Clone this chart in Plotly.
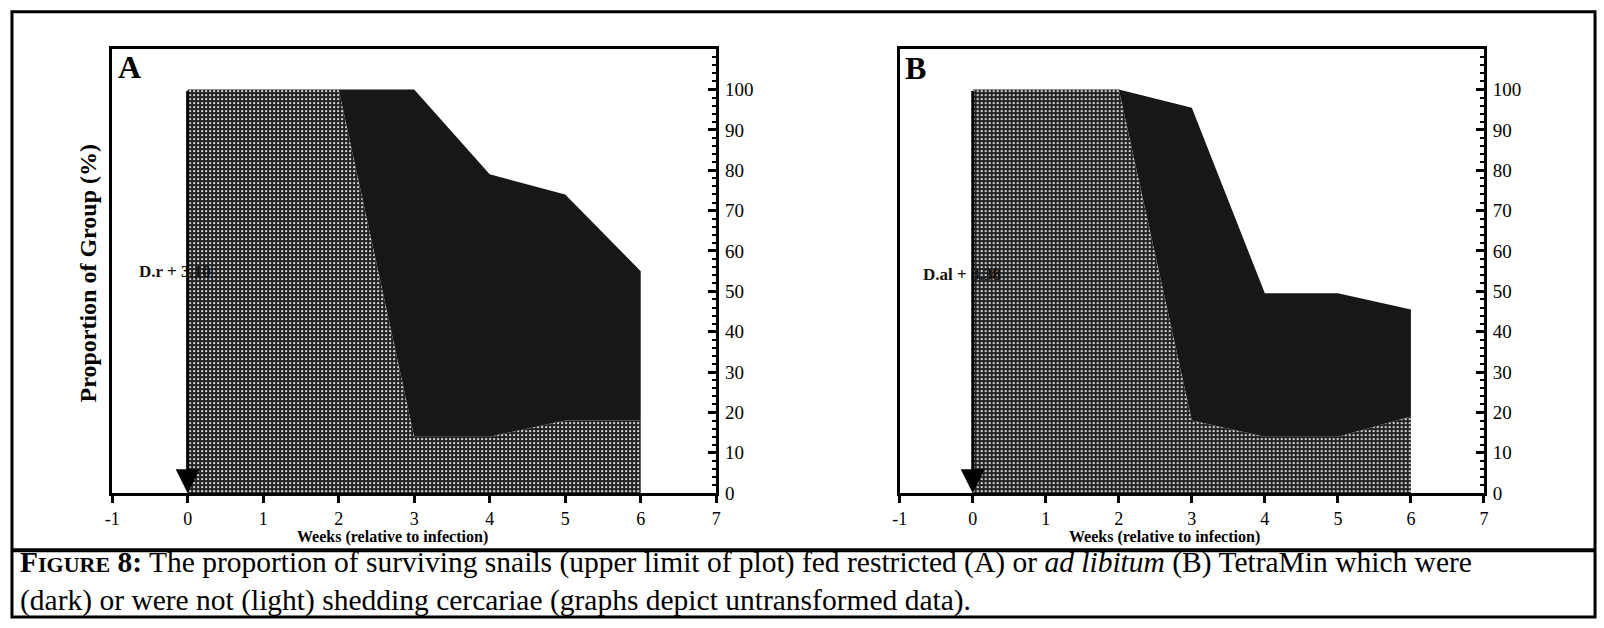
import plotly.graph_objects as go

# ---- data ----
weeks = [0, 1, 2, 3, 4, 5, 6]
a_total = [100, 100, 100, 100, 79, 74, 55]      # surviving snails, restricted (A)
a_light = [100, 100, 100, 14, 14, 18, 18]       # not shedding (light), A
b_total = [100, 100, 100, 95.5, 49.5, 49.5, 45.5]  # surviving snails, ad libitum (B)
b_light = [100, 100, 100, 18, 14, 14, 19]       # not shedding (light), B
x_ticks = [-1, 0, 1, 2, 3, 4, 5, 6, 7]
y_ticks = [0, 10, 20, 30, 40, 50, 60, 70, 80, 90, 100]

W, H = 1604, 628
def px(v):
    return v / W
def py(v):
    return 1 - v / H

FONT = "Liberation Serif"
DARK = "#171717"

fig = go.Figure()

def add_panel(xref, yref, light, total):
    fig.add_trace(go.Scatter(
        x=weeks, y=light, xaxis=xref, yaxis=yref, mode="lines",
        line=dict(width=0, color="#333"), fill="tozeroy",
        fillcolor="#2a2a2a",
        fillpattern=dict(shape=".", bgcolor="#222222", fgcolor="#ffffff",
                         size=4, solidity=0.22, fillmode="replace"),
        hoverinfo="skip", showlegend=False))
    fig.add_trace(go.Scatter(
        x=weeks, y=total, xaxis=xref, yaxis=yref, mode="lines",
        line=dict(width=0, color=DARK), fill="tonexty", fillcolor=DARK,
        hoverinfo="skip", showlegend=False))

add_panel("x", "y", a_light, a_total)
add_panel("x2", "y2", b_light, b_total)

y0, y1 = 502, 50
xax = dict(range=[-1, 7], tickvals=x_ticks, ticktext=[str(t) for t in x_ticks],
           ticks="outside", ticklen=7, tickwidth=3, tickcolor="black",
           showline=True, linewidth=3, linecolor="black", mirror=True,
           showgrid=False, zeroline=False, ticklabelstandoff=0,
           tickfont=dict(family=FONT, size=18, color="black"))
yax = dict(range=[0, 110], tickvals=y_ticks, side="right",
           ticks="inside", ticklen=8, tickwidth=3, tickcolor="black",
           minor=dict(dtick=2, tick0=0, ticks="inside", ticklen=4, tickwidth=2, tickcolor="black"),
           showline=True, linewidth=3, linecolor="black", mirror=True,
           showgrid=False, zeroline=False, ticklabelstandoff=2,
           tickfont=dict(family=FONT, size=19, color="black"))

fig.update_layout(
    width=W, height=H, margin=dict(l=0, r=0, t=0, b=0),
    paper_bgcolor="white", plot_bgcolor="white",
    xaxis=dict(xax, domain=[px(105), px(714)], anchor="y"),
    yaxis=dict(yax, domain=[py(y0), py(y1)], anchor="x"),
    xaxis2=dict(xax, domain=[px(899), px(1488)], anchor="y2"),
    yaxis2=dict(yax, domain=[py(y0), py(y1)], anchor="x2"),
)

def txt(x, y, text, size, xanchor="center", angle=0, color="black", align="center"):
    return dict(x=px(x), y=py(y), xref="paper", yref="paper", text=text,
                xanchor=xanchor, yanchor="middle", textangle=angle, showarrow=False,
                align=align, font=dict(family=FONT, size=size, color=color))

ann = []
# arrows at infection time
for xr, yr in (("x", "y"), ("x2", "y2")):
    ann.append(dict(x=0, y=0, ax=0, ay=100, xref=xr, yref=yr, axref=xr, ayref=yr,
                    showarrow=True, arrowhead=2, arrowsize=1.6, arrowwidth=3,
                    arrowcolor="black", text=""))
ann.append(txt(122, 68, "<b>A</b>", 32))
ann.append(txt(915, 69, "<b>B</b>", 32))
ann.append(txt(130, 276, "<b>D.r + 3.10</b>", 17, xanchor="left", color="#111"))
ann.append(txt(920, 279, "<b>D.al + 3.38</b>", 17, xanchor="left", color="#111"))
ann.append(txt(388, 547, "<b>Weeks (relative to infection)</b>", 16))
ann.append(txt(1166, 547, "<b>Weeks (relative to infection)</b>", 16))
ann.append(txt(81, 278, "<b>Proportion of Group (%)</b>", 24, angle=-90))
ann.append(txt(10, 592,
               "<b>F<span style='font-size:22px'>IGURE</span> 8:</b> The proportion of surviving snails "
               "(upper limit of plot) fed restricted (A) or <i>ad libitum</i> (B) TetraMin which were<br>"
               "(dark) or were not (light) shedding cercariae (graphs depict untransformed data).",
               29.5, xanchor="left", align="left"))
fig.update_layout(annotations=ann)

# outer frame and caption separator
fig.add_shape(type="rect", xref="paper", yref="paper", x0=px(4), x1=px(1600), y0=py(628), y1=py(12),
              line=dict(color="black", width=3))
fig.add_shape(type="line", xref="paper", yref="paper", x0=px(4), x1=px(1600), y0=py(560), y1=py(560),
              line=dict(color="black", width=4))

fig.write_html("out.html", config={"displayModeBar": False},
               post_script="document.body.style.margin='0';document.body.style.overflow='hidden';")
